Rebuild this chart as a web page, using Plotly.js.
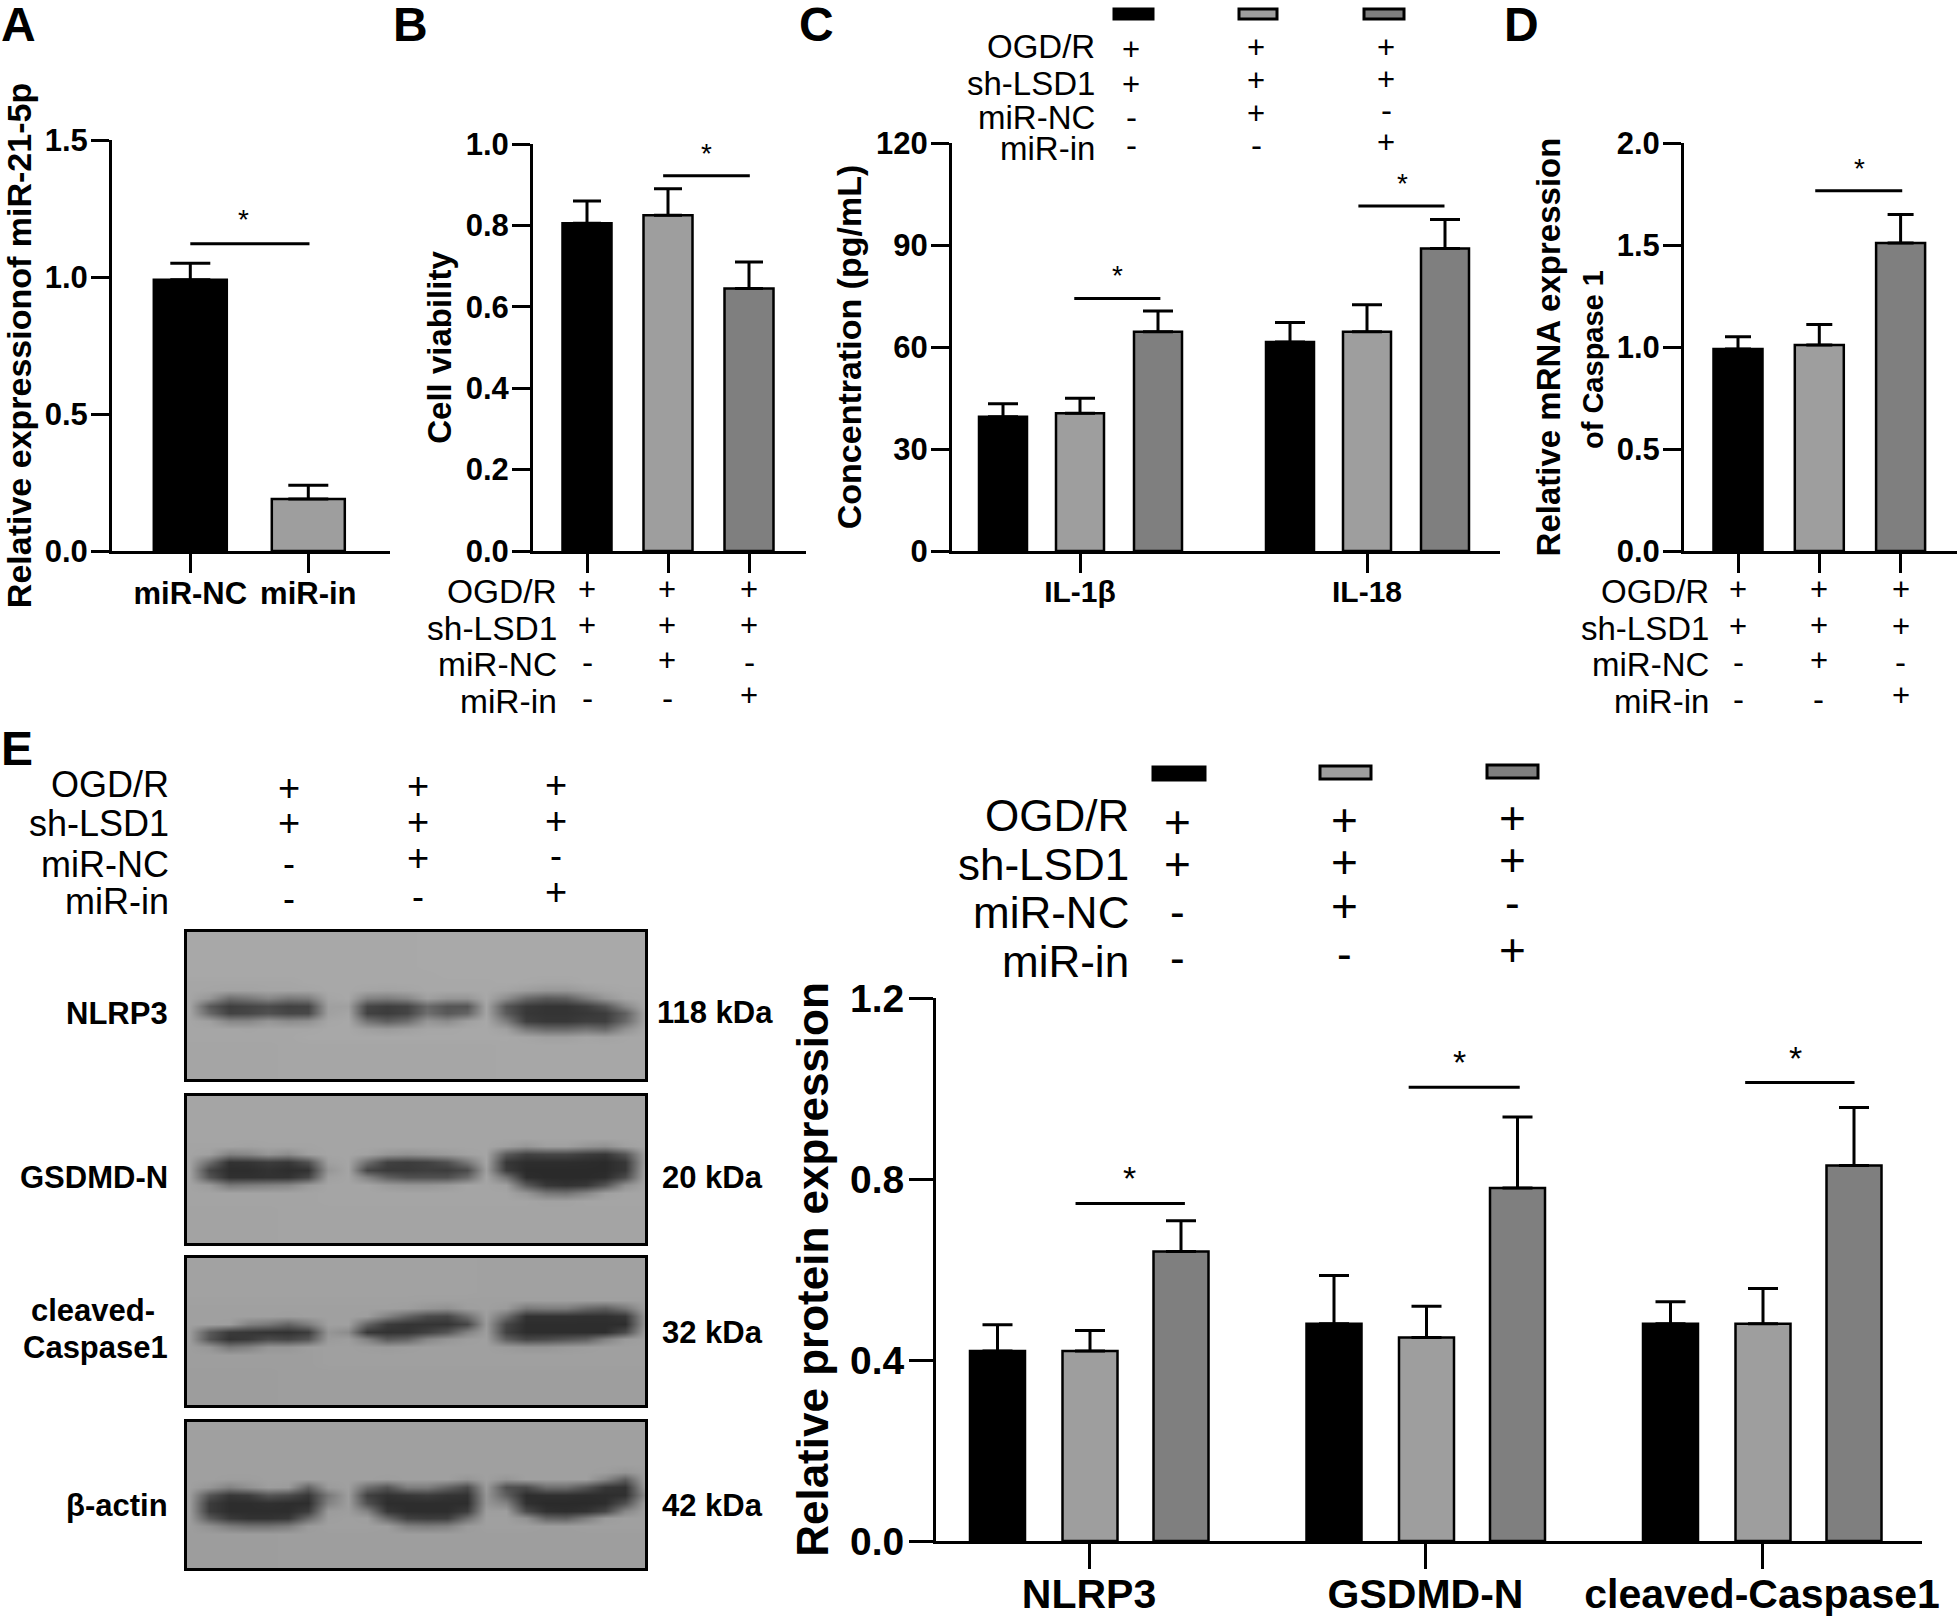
<!DOCTYPE html>
<html><head><meta charset="utf-8">
<script src="https://cdn.plot.ly/plotly-3.0.1.min.js"></script>
<style>html,body{margin:0;padding:0;background:#fff}#chart{width:1960px;height:1617px}</style>
</head><body><div id="chart"></div>
<script>
// ---------- data ----------
const groupColors = ['#000000', '#9e9e9e', '#7f7f7f'];
const groupNames = ['sh-LSD1', 'sh-LSD1 + miR-NC', 'sh-LSD1 + miR-in'];
const treatmentRows = ['OGD/R', 'sh-LSD1', 'miR-NC', 'miR-in'];
const treatmentMarks = [['+','+','+'], ['+','+','+'], ['-','+','-'], ['-','-','+']];

const aCategories = ['miR-NC', 'miR-in'];
const aValues = [0.99, 0.19];
const aErrors = [0.06, 0.05];

const bValues = [0.805, 0.825, 0.645];
const bErrors = [0.055, 0.065, 0.065];

const cCategories = ['IL-1β', 'IL-18'];
const cValues = [[39.5, 61.5], [40.5, 64.5], [64.5, 89]];
const cErrors = [[3.8, 5.7], [4.4, 7.9], [6.1, 8.5]];

const dValues = [0.99, 1.01, 1.51];
const dErrors = [0.06, 0.10, 0.14];

const eCategories = ['NLRP3', 'GSDMD-N', 'cleaved-Caspase1'];
const eValues = [[0.42, 0.48, 0.48], [0.42, 0.45, 0.48], [0.64, 0.78, 0.83]];
const eErrors = [[0.058, 0.107, 0.049], [0.045, 0.069, 0.078], [0.068, 0.157, 0.128]];

const blotLabels = ['NLRP3', 'GSDMD-N', 'β-actin'];
const blotSizes = ['118 kDa', '20 kDa', '32 kDa', '42 kDa'];
const blotCols = [2,22,42,62,82,102,122,142,162,182,202,222,242,262,282,302,322,342,362,382,402,422,442,462];
const blotNLRP3 = [
 [168,168,168,168,168,168,168,168,168,168,168,168,169,169,169,169,169,169,169,169,169,169,169,169],
 [168,168,168,168,168,168,168,168,168,168,168,168,168,169,169,169,169,169,169,169,169,169,169,169],
 [166,166,166,166,166,166,168,168,168,168,168,168,168,168,168,168,169,168,166,166,169,169,169,169],
 [166,165,163,163,165,165,165,168,168,165,163,165,168,168,168,168,165,158,152,152,160,165,168,168],
 [166,150,110,120,135,120,125,165,168,130,125,135,160,150,150,168,140,105,90,95,125,150,165,168],
 [166,90,62,68,75,65,68,160,160,70,62,68,105,85,85,165,85,58,52,52,62,85,135,168],
 [166,105,66,70,80,70,72,160,165,65,60,68,110,88,100,165,90,55,52,52,55,60,95,165],
 [166,160,135,135,150,140,145,166,168,115,95,110,150,140,160,168,125,62,55,55,62,62,105,165],
 [166,166,166,165,166,166,166,168,168,160,155,160,166,166,168,168,160,120,105,105,115,105,145,168],
 [166,166,166,166,166,166,168,168,168,168,168,168,168,168,168,168,168,165,160,160,165,162,166,168],
 [165,165,165,165,165,166,166,166,166,166,166,166,166,166,166,166,167,167,167,167,167,167,167,167]];
const blotGSDMD = [
 [165,165,165,165,165,165,165,165,165,165,165,165,165,165,165,165,165,165,165,165,165,165,165,165],
 [165,165,165,165,165,165,165,165,165,165,165,165,165,165,165,165,165,165,165,165,165,165,165,165],
 [164,164,164,162,164,164,164,165,165,165,165,165,165,165,165,165,160,150,160,160,150,145,160,165],
 [164,160,130,135,150,140,160,165,165,162,150,145,150,155,162,165,90,65,70,70,60,55,85,160],
 [164,110,50,52,60,55,80,160,165,110,65,60,65,80,120,165,55,45,45,45,44,42,55,160],
 [164,70,45,45,50,45,50,150,165,70,58,58,62,60,75,160,60,42,42,42,42,42,55,165],
 [164,85,48,48,50,50,70,160,165,130,95,80,80,80,105,165,115,45,42,42,42,45,75,165],
 [164,155,120,125,130,135,155,165,165,165,155,150,150,155,165,165,160,90,55,50,55,85,145,165],
 [164,164,164,164,164,164,164,165,165,165,165,165,165,165,165,165,165,150,120,115,135,160,165,165],
 [164,164,164,164,164,164,164,165,165,165,165,165,165,165,165,165,165,165,162,162,165,165,165,165],
 [163,163,163,163,163,164,164,164,164,164,164,164,164,164,164,164,164,164,164,164,164,164,164,164]];
const blotCaspase = [
 [162,162,162,162,162,162,162,162,162,162,162,162,162,162,162,161,161,161,161,161,161,161,161,161],
 [161,161,161,161,161,161,161,161,161,161,161,161,160,160,160,160,160,160,160,160,160,160,160,160],
 [160,160,160,160,160,160,160,160,160,160,160,158,150,145,158,160,155,120,125,125,105,95,120,158],
 [160,160,160,160,160,158,160,160,160,158,130,100,75,70,110,158,110,50,50,50,48,48,55,150],
 [160,160,158,130,120,100,125,160,160,100,60,52,52,52,70,155,70,45,45,45,45,45,45,150],
 [158,90,58,55,52,50,60,150,140,55,50,52,65,85,130,158,65,45,45,45,45,45,75,158],
 [158,85,52,58,75,70,85,155,158,130,90,100,135,150,158,160,95,70,75,85,95,130,155,160],
 [158,150,120,130,150,150,158,160,160,158,155,158,160,160,160,160,155,150,150,155,158,160,160,160],
 [158,158,158,158,158,158,158,160,160,160,160,160,160,160,160,160,160,160,160,160,160,160,160,160],
 [158,158,158,158,158,158,158,160,160,160,160,160,160,160,160,160,160,160,160,160,160,160,160,160],
 [157,157,157,157,157,158,158,158,158,158,158,158,158,158,158,158,158,158,158,158,158,158,158,158]];
const blotActin = [
 [160,160,160,160,160,160,160,160,160,160,160,160,160,160,160,160,160,160,160,160,160,160,160,160],
 [160,160,160,160,160,160,160,160,160,160,160,160,160,160,160,160,160,160,160,160,160,160,160,160],
 [160,160,160,160,160,160,160,160,160,160,160,160,160,160,160,160,160,160,160,160,160,158,150,158],
 [160,160,158,158,160,160,160,160,160,160,158,160,160,160,150,160,150,160,160,160,160,135,95,160],
 [160,150,130,145,158,155,100,155,160,110,85,125,125,100,75,155,80,75,110,110,85,55,50,155],
 [158,85,55,60,85,75,55,120,158,65,50,55,60,52,50,150,95,45,48,48,45,45,48,140],
 [158,60,45,45,48,45,45,130,158,80,45,45,45,45,45,150,130,48,42,42,42,45,80,158],
 [158,60,45,45,45,45,60,155,158,130,55,45,45,45,60,158,158,75,48,45,50,70,135,160],
 [158,90,58,50,50,55,105,158,160,158,105,65,60,62,110,160,160,145,100,95,125,155,160,160],
 [158,145,125,115,115,125,155,160,160,160,158,130,125,130,155,160,160,160,158,158,160,160,160,160],
 [157,157,157,157,157,158,158,158,158,158,158,158,158,158,158,158,158,158,158,158,158,158,158,158]];
const blotGrids = [blotNLRP3, blotGSDMD, blotCaspase, blotActin];

// ---------- layout geometry (pixels of the 1960x1617 page) ----------
const W = 1960, H = 1617;
const FONT = 'Liberation Sans, Arial, sans-serif';
const px = x => x / W, py = y => 1 - y / H;
const data = [], shapes = [], annotations = [];
const layout = {
  width: W, height: H, margin: {l:0, r:0, t:0, b:0, pad:0}, paper_bgcolor:'#fff', plot_bgcolor:'rgba(0,0,0,0)',
  barmode:'overlay', showlegend:false, font:{family:FONT, color:'#000'}, shapes, annotations
};
function text(t, x, y, size, bold, anchor, extra) {
  annotations.push(Object.assign({text:t, x:px(x), y:py(y), xref:'paper', yref:'paper', showarrow:false,
    xanchor:anchor||'center', yanchor:'middle', borderpad:0, align:'center',
    font:{family:FONT, size, color:'#000', weight:bold?700:400}}, extra||{}));
}

// one bar panel; g holds its pixel box and styles
function barPanel(n, g) {
  const sfx = n===1 ? '' : String(n), xa='xaxis'+sfx, ya='yaxis'+sfx, xr='x'+sfx, yr='y'+sfx;
  const step = g.step;
  const lo = (g.left - g.tick0)/step, hi = (g.right - g.tick0)/step;
  layout[xa] = {domain:[px(g.left),px(g.right)], anchor:yr, type:'category', categories:g.categories,
    range:[lo,hi], showline:true, linewidth:g.lw, linecolor:'#000', ticks:'outside', ticklen:g.xtl, tickwidth:g.lw,
    tickcolor:'#000', showgrid:false, zeroline:false, showticklabels:g.showX, fixedrange:true, ticklabelstandoff:g.xso,
    tickfont:{family:FONT, size:g.xfs, color:'#000', weight:700}};
  layout[ya] = {domain:[py(g.bottom),py(g.top)], anchor:xr, range:[0,g.ymax], tickvals:g.yticks,
    ticktext:g.yticks.map(v=>v.toFixed(g.dec)), showline:true, linewidth:g.lw, linecolor:'#000', ticks:'outside', ticklen:g.ytl,
    tickwidth:g.lw, tickcolor:'#000', showgrid:false, zeroline:false, fixedrange:true, ticklabelstandoff:-3,
    tickfont:{family:FONT, size:g.yfs, color:'#000', weight:700},
    title:{text:g.title, standoff:g.standoff, font:{family:FONT, size:g.tfs, color:'#000', weight:700}}};
  g.series.forEach((s,i)=>{
    data.push({type:'bar', x:g.categories, y:s.y, name:s.name, xaxis:xr, yaxis:yr,
      width:g.barW/step, offset:(s.shift - g.barW/2)/step,
      marker:{color:s.color, line:{color:'#000', width:g.blw}},
      error_y:{type:'data', symmetric:false, array:s.err, arrayminus:s.err.map(()=>0), color:'#000',
        thickness:g.lw, width:g.cap}});
  });
  g.sig.forEach(b=>{
    shapes.push({type:'line', xref:xr, yref:yr, x0:b.a, x1:b.b, y0:b.y, y1:b.y, line:{color:'#000', width:g.lw}});
    annotations.push({text:'*', xref:xr, yref:yr, x:b.star, y:b.y, showarrow:false, xanchor:'center', yanchor:'bottom',
      yshift:g.starShift, borderpad:0, font:{family:FONT, size:g.starFs, color:'#000'}});
  });
}
function table(labelX, labelYs, colXs, markYs, size, markSize) {
  treatmentRows.forEach((r,i)=>{
    text(r, labelX, labelYs[i], size, false, 'right');
    treatmentMarks[i].forEach((m,j)=> text(m, colXs[j], markYs[j][i], m==='+'?markSize:size, false, 'center'));
  });
}
function swatch(x0,x1,y0,y1,color) {
  shapes.push({type:'rect', xref:'paper', yref:'paper', x0:px(x0), x1:px(x1), y0:py(y0), y1:py(y1),
    fillcolor:color, line:{color:'#000', width:3}});
}

barPanel(1, {left:112,right:390,top:140,bottom:551,tick0:190.3,step:118,categories:aCategories,showX:true,xso:-6,
  ymax:1.5,yticks:[0,0.5,1,1.5],dec:1,barW:73,blw:2.5,lw:3,cap:20,xtl:19,ytl:18,xfs:31,yfs:31,tfs:34,standoff:10,
  title:'Relative expressionof miR-21-5p',starFs:28,starShift:8,
  series:[{y:aValues,err:aErrors,color:[groupColors[0],groupColors[1]],shift:0,name:'miR-21-5p'}],
  sig:[{a:0,b:1.01,star:0.455,y:1.121}]});
const threeCats = groupNames;
barPanel(2, {left:533,right:806,top:144,bottom:551,tick0:587,step:81,categories:threeCats,showX:false,xso:0,
  ymax:1,yticks:[0,0.2,0.4,0.6,0.8,1],dec:1,barW:49,blw:2.5,lw:3,cap:14,xtl:19,ytl:18,xfs:30,yfs:31,tfs:33,standoff:5,
  title:'Cell viability',starFs:28,starShift:6,
  series:[{y:bValues,err:bErrors,color:groupColors,shift:0,name:'Cell viability'}],
  sig:[{a:0.94,b:2.01,star:1.48,y:0.922}]});
barPanel(3, {left:952,right:1500,top:143,bottom:551,tick0:1080,step:287,categories:cCategories,showX:true,xso:-7,
  ymax:120,yticks:[0,30,60,90,120],dec:0,barW:48,blw:2.5,lw:3,cap:15,xtl:19,ytl:18,xfs:30,yfs:31,tfs:34,standoff:5,
  title:'Concentration (pg/mL)',starFs:28,starShift:6,
  series:[0,1,2].map(k=>({y:cValues[k],err:cErrors[k],color:groupColors[k],shift:[-77,0,78][k],name:groupNames[k]})),
  sig:[{a:-0.02,b:0.28,star:0.13,y:74.3},{a:0.97,b:1.27,star:1.125,y:101.5}]});
barPanel(4, {left:1684,right:1957,top:143,bottom:551,tick0:1738,step:81.3,categories:threeCats.map(s=>s+' '),showX:false,xso:0,
  ymax:2,yticks:[0,0.5,1,1.5,2],dec:1,barW:49,blw:2.5,lw:3,cap:13,xtl:19,ytl:18,xfs:30,yfs:31,tfs:33,standoff:47,
  title:'Relative mRNA expression',starFs:28,starShift:6,
  series:[{y:dValues,err:dErrors,color:groupColors,shift:0,name:'Caspase 1'}],
  sig:[{a:0.95,b:2.02,star:1.49,y:1.766}]});
text('of Caspase 1', 1593, 360, 29, true, 'center', {textangle:-90});
barPanel(5, {left:936,right:1922,top:998,bottom:1541,tick0:1089,step:336.5,categories:eCategories,showX:true,xso:-10,
  ymax:1.2,yticks:[0,0.4,0.8,1.2],dec:1,barW:55,blw:2.5,lw:3,cap:15,xtl:25,ytl:24,xfs:41,yfs:39,tfs:44,standoff:8,
  title:'Relative protein expression',starFs:34,starShift:5,
  series:[0,1,2].map(k=>({y:eValues[k],err:eErrors[k],color:groupColors[k],shift:[-91.5,1,92][k],name:groupNames[k]})),
  sig:[{a:-0.04,b:0.285,star:0.12,y:0.746},{a:-0.05+1,b:0.28+1,star:1.10,y:1.003},{a:-0.05+2,b:0.275+2,star:2.10,y:1.013}]});

// western blots: the typed rows are the band region; the rows above and below repeat the typed background rows
const blotBoxes = [[932,1079],[1096,1243],[1258,1405],[1422,1568]];
const blotRowPos = [3,11,19,27,35,43,51,59,67,75,83,91,99,107,115,123,131,139,147];
function fullGrid(g){ return blotRowPos.map((y,k)=> k<5 ? g[0] : k<=14 ? g[k-4] : g[10]); }
blotBoxes.forEach((b,i)=>{
  const n=6+i, xr='x'+n, yr='y'+n;
  layout['xaxis'+n]={domain:[px(187),px(645)],anchor:yr,range:[0,462],showline:true,mirror:true,linewidth:3,linecolor:'#000',ticks:'',showticklabels:false,showgrid:false,zeroline:false,fixedrange:true};
  layout['yaxis'+n]={domain:[py(b[1]),py(b[0])],anchor:xr,range:[150,0],showline:true,mirror:true,linewidth:3,linecolor:'#000',ticks:'',showticklabels:false,showgrid:false,zeroline:false,fixedrange:true};
  data.push({type:'heatmap',x:blotCols,y:blotRowPos,z:fullGrid(blotGrids[i]),xaxis:xr,yaxis:yr,zsmooth:'best',zmin:0,zmax:255,showscale:false,
    colorscale:[[0,'#000'],[1,'#fff']],hoverinfo:'skip'});
});

// treatment tables
table(558,[591,628,665,701],[587,667,749],[[589,625,663,698],[589,625,660,698],[589,625,663,695]],33.5,31);
table(1096,[47,83,118,149],[1131,1256,1386],[[50,84,117,145],[48,81,113,145],[48,80,111,143]],33,31);
table(1710,[592,628,665,701],[1738,1818.5,1900.6],[[590,626,663,699],[590,625,660,699],[590,626,663,696]],33,31);
table(170,[784,823,864,901],[289,418,556],[[788,823,863,898],[786,822,858,896],[785,821,855,892]],36,38);
table(1130,[815,864,913,961],[1177,1344,1512],[[822,864,911,957],[820,862,906,954],[818,860,903,950]],44,46);

// treatment key swatches
[[1114,1153],[1239,1277],[1364,1404]].forEach((s,i)=>swatch(s[0],s[1],9,19,groupColors[i]));
[[1153,1205,767,780],[1320,1371,766,779],[1487,1538,765,778]].forEach((s,i)=>swatch(s[0],s[1],s[2],s[3],groupColors[i]));

// panel letters
[['A',0,24],['B',392,24],['C',798,24],['D',1503,24],['E',0,748]].forEach(l=>text(l[0],l[1],l[2],48,true,'left'));

// blot labels
text(blotLabels[0],169,1013,31,true,'right');
text(blotLabels[1],169,1177,31,true,'right');
text('cleaved-',93,1310,31,true,'center');
text('Caspase1',169,1347,31,true,'right');
text(blotLabels[2],169,1505,31,true,'right');
[[1012],[1177],[1332],[1505]].forEach((y,i)=>text(blotSizes[i],i===0?715:712,y[0],31,true,'center'));

Plotly.newPlot('chart', data, layout, {displayModeBar:false, staticPlot:true});
</script></body></html>
